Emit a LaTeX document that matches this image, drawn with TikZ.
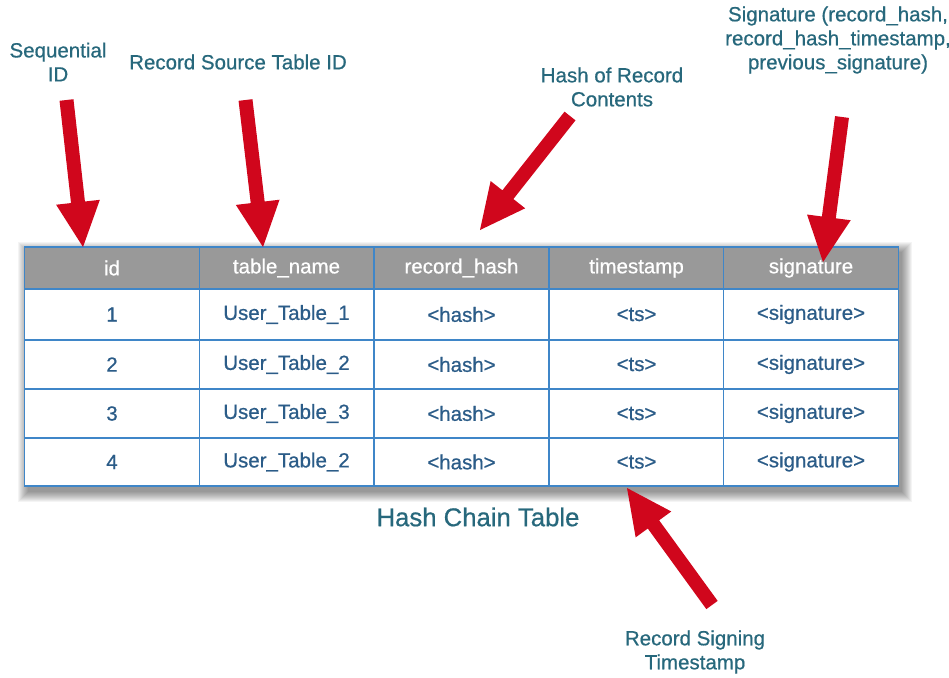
\documentclass[tikz,border=0pt]{standalone}
\usepackage{fontspec}
\setmainfont{Liberation Sans}[FakeBold=0.6]
\newfontfamily\heavyfont{Liberation Sans}[FakeBold=0.6]
\usetikzlibrary{calc}
\definecolor{lbl}{HTML}{27687C}
\definecolor{celltxt}{HTML}{2B5C88}
\definecolor{gridblue}{HTML}{3F86C8}
\definecolor{hdrgray}{HTML}{999999}
\definecolor{arrowred}{HTML}{D0061C}
\newcommand\redarrow[2]{%
  \coordinate (ab) at ($(#2)!45pt!(#1)$);
  \fill[arrowred] ($(#1)!7pt!90:(#2)$) -- ($(ab)!7pt!90:(#2)$) -- ($(ab)!22pt!90:(#2)$) -- (#2)
    -- ($(ab)!22pt!-90:(#2)$) -- ($(ab)!7pt!-90:(#2)$) -- ($(#1)!7pt!-90:(#2)$) -- cycle;}
\tikzset{
  lab/.style={text=lbl, align=center, font=\heavyfont\fontsize{20.5}{24}\selectfont, inner sep=0pt},
  hcell/.style={draw=gridblue, line width=1.4pt, fill=hdrgray, text=white, inner sep=0pt,
    font=\fontsize{20.5}{24}\selectfont},
  bcell/.style={draw=gridblue, line width=1.4pt, fill=white, text=celltxt, inner sep=0pt,
    font=\heavyfont\fontsize{20.5}{24}\selectfont},
}
\begin{document}
\begin{tikzpicture}[x=1pt,y=-1pt]
\useasboundingbox[fill=white] (0,0) rectangle (949,677);
% shadow
\foreach \s in {0,1,...,10}
  \fill[black, opacity=0.045] (25+3-\s,247+5-\s) rectangle (898+4+\s,486+6+\s);
% table
\foreach \c/\t [count=\i] in {112/id,286.5/table\_name,461.5/record\_hash,636.5/timestamp,811/signature}
  \node[hcell, minimum width=174.6pt, minimum height=42pt] (h\i) at (\c,268) {\t};
\foreach \r/\y/\h/\n in {1/314.5/51/1,2/364.5/49/2,3/413.5/49/3,4/462/48/2}{
  \node[bcell, minimum width=174.6pt, minimum height=\h pt] (c\r1) at (112,\y) {\r};
  \node[bcell, minimum width=174.6pt, minimum height=\h pt] (c\r2) at (286.5,\y) {User\_Table\_\n};
  \node[bcell, minimum width=174.6pt, minimum height=\h pt] (c\r3) at (461.5,\y) {<hash>};
  \node[bcell, minimum width=174.6pt, minimum height=\h pt] (c\r4) at (636.5,\y) {<ts>};
  \node[bcell, minimum width=174.6pt, minimum height=\h pt] (c\r5) at (811,\y) {<signature>};
}
% labels
\node[lab] (seq) at (58,62) {Sequential\\ID};
\node[lab] (src) at (238,62) {Record Source Table ID};
\node[lab] (hsh) at (612,87) {Hash of Record\\Contents};
\node[lab] (sig) at (838,40) {Signature (record\_hash,\\record\_hash\_timestamp,\\previous\_signature)};
\node[lab] (tsl) at (695,652) {Record Signing\\Timestamp};
\node[lab, font=\heavyfont\fontsize{25.7}{30}\selectfont] (title) at (478,517) {Hash Chain Table};
% arrows
\coordinate (t1) at (66.5,100); \coordinate (p1) at (83,247);
\coordinate (t2) at (245.5,100); \coordinate (p2) at (263,247);
\coordinate (t3) at (570,116); \coordinate (p3) at (480,230);
\coordinate (t4) at (842,117); \coordinate (p4) at (823,262);
\coordinate (t5) at (712,605); \coordinate (p5) at (627,488);
\redarrow{t1}{p1}
\redarrow{t2}{p2}
\redarrow{t3}{p3}
\redarrow{t4}{p4}
\redarrow{t5}{p5}
\end{tikzpicture}
\end{document}
